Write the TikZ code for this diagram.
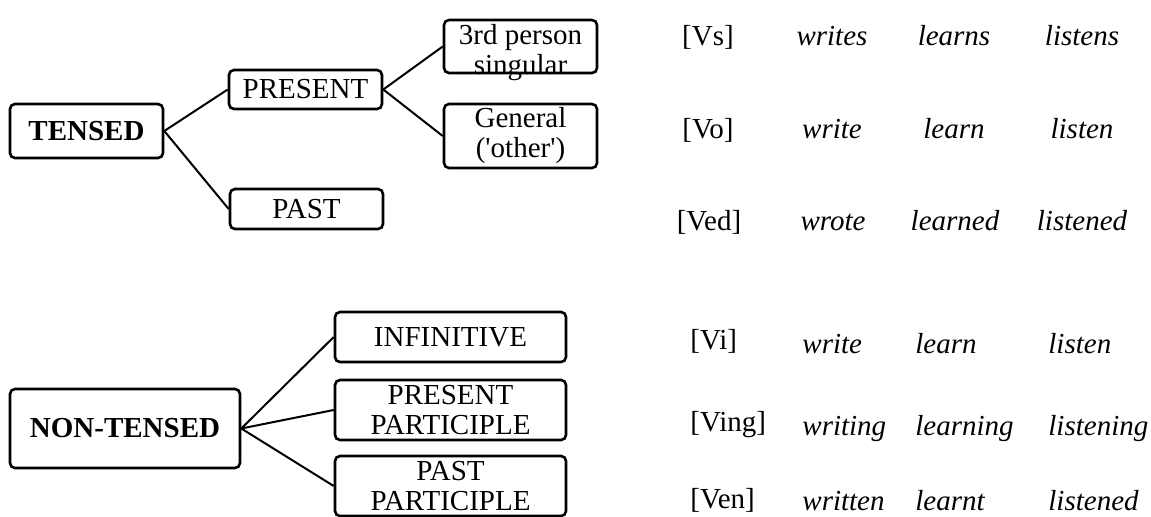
\documentclass[tikz,border=0pt]{standalone}
\usepackage{fontspec}
\setmainfont{Liberation Serif}
\usepackage{tikz}

\begin{document}
\begin{tikzpicture}[x=0.5pt, y=-0.5pt,
        box/.style={draw, line width=1.3pt, rounded corners=2.5pt, align=center, inner sep=0pt, font=\fontsize{14.5}{15}\selectfont},
        tag/.style={inner sep=0pt, font=\fontsize{14.5}{15}\selectfont},
        word/.style={inner sep=0pt, font=\fontsize{14.5}{15}\selectfont\itshape},
        link/.style={line width=1pt}
    ]
      \path[clip, use as bounding box] (0,0) rectangle (1151,516);
      % Tensed forms
      \node[box, minimum width=76.5pt, minimum height=27pt, font=\fontsize{14.5}{15}\selectfont\bfseries] (tensed) at (86.5,131) {TENSED};
      \node[box, minimum width=76.5pt, minimum height=19.5pt] (present) at (305.5,89.5) {PRESENT};
      \node[box, minimum width=76.5pt, minimum height=20pt] (past) at (306.5,209) {PAST};
      \node[box, minimum width=76.5pt, minimum height=26.5pt] (third) at (520.5,46.5) {};
      \node[tag, align=center] (third-label) at (520.5,53) {3rd person\\singular};
      \node[box, minimum width=76.5pt, minimum height=32pt] (general) at (520.5,136) {General\\(\textquotesingle other\textquotesingle)};
      \draw[link] (tensed.east) -- (present.west);
      \draw[link] (tensed.east) -- (past.west);
      \draw[link] (present.east) -- (third.west);
      \draw[link] (present.east) -- (general.west);
      % Non-tensed forms
      \node[box, minimum width=115pt, minimum height=39.5pt, font=\fontsize{14.5}{15}\selectfont\bfseries] (nontensed) at (125,428.5) {NON-TENSED};
      \node[box, minimum width=115.5pt, minimum height=25pt] (infinitive) at (450.5,337) {INFINITIVE};
      \node[box, minimum width=115.5pt, minimum height=30pt] (prespart) at (450.5,410) {PRESENT\\PARTICIPLE};
      \node[box, minimum width=115.5pt, minimum height=30pt] (pastpart) at (450.5,486) {PAST\\PARTICIPLE};
      \draw[link] (nontensed.east) -- (infinitive.west);
      \draw[link] (nontensed.east) -- (prespart.west);
      \draw[link] (nontensed.east) -- (pastpart.west);
      % Examples, tensed
      \node[tag, anchor=base] (vs) at (708,45) {[Vs]};
      \node[word, anchor=base] (vs-1) at (832,45) {writes};
      \node[word, anchor=base] (vs-2) at (954,45) {learns};
      \node[word, anchor=base] (vs-3) at (1082,45) {listens};
      \node[tag, anchor=base] (vo) at (708,138) {[Vo]};
      \node[word, anchor=base] (vo-1) at (832,138) {write};
      \node[word, anchor=base] (vo-2) at (954,138) {learn};
      \node[word, anchor=base] (vo-3) at (1082,138) {listen};
      \node[tag, anchor=base] (ved) at (709,230) {[Ved]};
      \node[word, anchor=base] (ved-1) at (833,230) {wrote};
      \node[word, anchor=base] (ved-2) at (955,230) {learned};
      \node[word, anchor=base] (ved-3) at (1082,230) {listened};
      % Examples, non-tensed
      \node[tag, anchor=base west] (vi) at (690,349) {[Vi]};
      \node[word, anchor=base west] (vi-1) at (802,353) {write};
      \node[word, anchor=base west] (vi-2) at (915,353) {learn};
      \node[word, anchor=base west] (vi-3) at (1048,353) {listen};
      \node[tag, anchor=base west] (ving) at (690,431) {[Ving]};
      \node[word, anchor=base west] (ving-1) at (802,435) {writing};
      \node[word, anchor=base west] (ving-2) at (915,435) {learning};
      \node[word, anchor=base west] (ving-3) at (1048,435) {listening};
      \node[tag, anchor=base west] (ven) at (690,508) {[Ven]};
      \node[word, anchor=base west] (ven-1) at (802,510) {written};
      \node[word, anchor=base west] (ven-2) at (915,510) {learnt};
      \node[word, anchor=base west] (ven-3) at (1048,510) {listened};
    \end{tikzpicture}
\end{document}
